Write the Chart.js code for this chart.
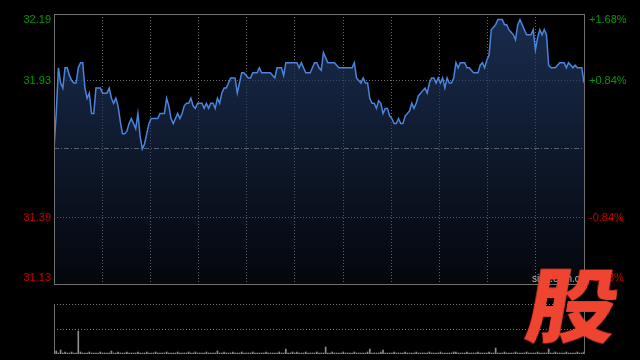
<!DOCTYPE html>
<html>
<head>
<meta charset="utf-8">
<script src="https://cdn.jsdelivr.net/npm/chart.js@4.4.1/dist/chart.umd.min.js"></script>
<style>
  html, body { margin: 0; padding: 0; background: #000; }
  #wrap { position: relative; width: 640px; height: 360px; overflow: hidden; background: #000; }
  canvas { position: absolute; left: 0; }
  #main { top: 0; }
  #vol { top: 290px; }
  #logo {
    position: absolute; left: 536px; top: 260px;
    font-family: "Noto Sans CJK SC", sans-serif; font-weight: 900;
    font-size: 81px; line-height: 1; color: #ee4430;
    transform: skewX(-10deg) scaleX(1.12); transform-origin: left top;
  }
</style>
</head>
<body>
<div id="wrap">
  <canvas id="main" width="640" height="290"></canvas>
  <canvas id="vol" width="640" height="70"></canvas>
  <span id="logo">股</span>
</div>
<script>
// ---- data ----
const prevClose = 31.66;
const priceTickLabels = ['32.19', '31.93', '31.39', '31.13'];
const pctTickLabels = ['+1.68%', '+0.84%', '-0.84%', '-1.68%'];
const prices = [
  31.66,31.80,31.98,31.92,31.90,31.98,31.98,31.95,31.93,31.92,
  31.92,31.98,32.00,32.00,31.90,31.86,31.88,31.80,31.80,31.90,
  31.90,31.90,31.88,31.88,31.88,31.90,31.86,31.84,31.86,31.83,
  31.77,31.72,31.72,31.73,31.76,31.78,31.76,31.74,31.80,31.71,
  31.66,31.68,31.72,31.76,31.78,31.78,31.78,31.78,31.80,31.80,
  31.80,31.86,31.83,31.78,31.76,31.78,31.80,31.78,31.80,31.83,
  31.84,31.84,31.86,31.83,31.82,31.84,31.84,31.84,31.82,31.84,
  31.82,31.84,31.84,31.82,31.86,31.84,31.88,31.90,31.90,31.92,
  31.94,31.94,31.94,31.88,31.92,31.96,31.96,31.95,31.94,31.94,
  31.96,31.96,31.96,31.98,31.96,31.96,31.96,31.96,31.96,31.95,
  31.94,31.98,31.98,31.98,31.95,32.00,32.00,32.00,32.00,32.00,
  32.00,31.98,32.00,31.98,31.96,31.96,31.96,31.98,32.00,32.00,
  31.98,31.97,32.04,32.02,32.00,32.00,32.00,32.00,31.99,31.98,
  31.98,31.98,31.98,31.98,31.98,31.98,32.00,31.94,31.93,31.92,
  31.94,31.92,31.92,31.86,31.84,31.84,31.82,31.85,31.84,31.80,
  31.82,31.82,31.79,31.78,31.76,31.76,31.78,31.76,31.76,31.79,
  31.80,31.81,31.84,31.82,31.84,31.87,31.88,31.89,31.90,31.88,
  31.92,31.94,31.94,31.92,31.94,31.92,31.94,31.90,31.94,31.92,
  31.92,31.94,32.00,31.98,32.00,32.00,32.00,31.98,31.98,31.97,
  31.96,31.96,31.96,31.99,32.00,31.98,32.01,32.03,32.13,32.14,
  32.15,32.17,32.17,32.17,32.15,32.15,32.13,32.12,32.11,32.09,
  32.15,32.17,32.15,32.13,32.11,32.11,32.11,32.13,32.05,32.10,
  32.13,32.11,32.13,32.11,31.99,31.98,31.98,31.98,31.99,32.00,
  32.00,32.00,31.98,32.00,31.99,31.98,31.99,31.98,31.98,31.98,
  31.92
];
const volumes = [
  2,3,1,4,1,2,1,1,2,1,1,23,2,1,1,1,2,1,1,1,
  1,2,1,1,1,1,3,1,1,2,1,1,1,2,1,1,1,1,2,1,
  1,1,2,1,1,1,2,1,1,1,1,2,1,1,1,1,2,1,1,1,
  1,2,1,1,2,1,1,1,1,2,1,1,1,1,3,1,1,2,1,1,
  1,2,1,1,1,2,1,1,1,1,2,1,1,1,1,1,2,1,1,1,
  1,1,2,1,1,5,1,1,2,1,2,1,1,1,2,1,1,1,1,2,
  1,1,1,7,1,1,2,1,1,1,1,2,1,1,1,1,2,1,1,1,
  1,1,2,5,1,1,1,1,2,4,1,1,1,1,2,1,1,1,1,2,
  1,1,1,1,2,1,1,1,1,1,2,1,1,1,1,2,1,1,1,1,
  1,2,2,1,1,1,1,2,1,1,1,1,2,1,1,1,1,2,1,1,
  6,1,1,1,2,1,1,1,1,2,1,1,1,1,2,1,1,1,1,2,
  1,1,1,1,5,1,1,2,1,1,1,1,2,1,1,1,1,2,1,1,
  2
];
const volumeMax = 50;
const xColumns = 11;

// ---- styling ----
const GREEN = '#009a00', RED = '#cc0000';
const GRID = '#6a6a6a', FRAME = '#707070';
const FONT = '11px "Liberation Sans", Arial, sans-serif';
const lastIndex = prices.length - 1;
const yMin = prevClose * (1 - 0.0168), yMax = prevClose * (1 + 0.0168);

function dotted(ctx, x1, y1, x2, y2, color, dash) {
  ctx.save();
  ctx.strokeStyle = color; ctx.lineWidth = 1; ctx.setLineDash(dash || [1, 2]);
  ctx.beginPath(); ctx.moveTo(x1, y1); ctx.lineTo(x2, y2); ctx.stroke();
  ctx.restore();
}
const snap = v => Math.round(v - 0.5) + 0.5;

const mainDecor = {
  id: 'mainDecor',
  beforeDatasetsDraw(chart) {
    const {ctx, chartArea: a, scales: {x, y}} = chart;
    for (let k = 1; k < xColumns; k++) {
      const px = snap(x.getPixelForValue(k * lastIndex / xColumns));
      dotted(ctx, px, a.top, px, a.bottom, GRID);
    }
    [priceTickLabels[1], priceTickLabels[2]].forEach(t => {
      const py = snap(y.getPixelForValue(parseFloat(t)));
      dotted(ctx, a.left, py, a.right, py, GRID);
    });
    const pc = snap(y.getPixelForValue(prevClose));
    dotted(ctx, a.left, pc, a.right, pc, '#8a8a8a', [5, 2, 1, 2]);
  },
  afterDraw(chart) {
    const {ctx, chartArea: a, scales: {y}} = chart;
    ctx.save();
    ctx.strokeStyle = FRAME; ctx.lineWidth = 1;
    ctx.strokeRect(snap(a.left), snap(a.top), Math.round(a.right - a.left), Math.round(a.bottom - a.top));
    ctx.font = FONT; ctx.textBaseline = 'middle';
    priceTickLabels.forEach((t, i) => {
      let py = y.getPixelForValue(parseFloat(t));
      py = Math.min(Math.max(py, a.top + 6), a.bottom - 6);
      ctx.fillStyle = i < 2 ? GREEN : RED;
      ctx.textAlign = 'right';
      ctx.fillText(t, a.left - 3, py);
      ctx.textAlign = 'left';
      ctx.fillText(pctTickLabels[i], a.right + 5, py);
    });
    ctx.font = '10px "Liberation Sans", Arial, sans-serif';
    ctx.fillStyle = '#bbbbbb'; ctx.textAlign = 'left';
    ctx.fillText('sina.com.cn', a.right - 52, a.bottom - 5);
    ctx.restore();
  }
};

new Chart(document.getElementById('main'), {
  type: 'line',
  data: {
    datasets: [{
      data: prices.map((p, i) => ({x: i, y: p})),
      borderColor: '#4a84dc',
      borderWidth: 1.5,
      pointRadius: 0,
      tension: 0,
      fill: 'start',
      backgroundColor(ctx) {
        const a = ctx.chart.chartArea;
        if (!a) return 'rgba(28,48,85,0.5)';
        const g = ctx.chart.ctx.createLinearGradient(0, a.top, 0, a.bottom);
        g.addColorStop(0, 'rgba(30,52,92,0.85)');
        g.addColorStop(1, 'rgba(30,52,92,0.12)');
        return g;
      }
    }]
  },
  options: {
    responsive: false, animation: false, devicePixelRatio: 1,
    layout: {padding: {left: 54, right: 56, top: 14, bottom: 6}},
    plugins: {legend: {display: false}, tooltip: {enabled: false}},
    scales: {
      x: {type: 'linear', min: 0, max: lastIndex, display: false},
      y: {type: 'linear', min: yMin, max: yMax, display: false}
    }
  },
  plugins: [mainDecor]
});

const volDecor = {
  id: 'volDecor',
  beforeDatasetsDraw(chart) {
    const {ctx, chartArea: a, scales: {y}} = chart;
    dotted(ctx, a.left, snap(a.top), a.right, snap(a.top), '#7a7a7a');
    const mid = snap(y.getPixelForValue(volumeMax / 2));
    dotted(ctx, a.left, mid, a.right, mid, '#7a7a7a');
    ctx.save();
    ctx.strokeStyle = FRAME; ctx.lineWidth = 1;
    ctx.beginPath();
    ctx.moveTo(snap(a.left), a.top); ctx.lineTo(snap(a.left), a.bottom);
    ctx.moveTo(snap(a.right), a.top); ctx.lineTo(snap(a.right), a.bottom);
    ctx.stroke();
    ctx.restore();
  }
};

new Chart(document.getElementById('vol'), {
  type: 'bar',
  data: {
    datasets: [{
      data: volumes.map((v, i) => ({x: i, y: v})),
      backgroundColor: '#8c8c8c',
      barThickness: 1,
      borderWidth: 0
    }]
  },
  options: {
    responsive: false, animation: false, devicePixelRatio: 1,
    layout: {padding: {left: 54, right: 56, top: 14, bottom: 6}},
    plugins: {legend: {display: false}, tooltip: {enabled: false}},
    scales: {
      x: {type: 'linear', min: 0, max: lastIndex, display: false, offset: false},
      y: {type: 'linear', min: 0, max: volumeMax, display: false}
    }
  },
  plugins: [volDecor]
});
</script>
</body>
</html>
